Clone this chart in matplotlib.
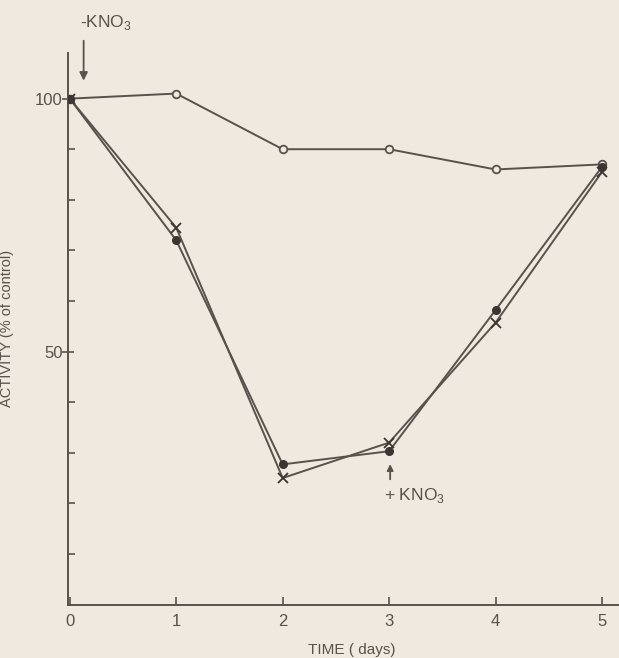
import matplotlib
matplotlib.use("Agg")
from matplotlib import pyplot as plt

# days after removal of KNO3
days = [0, 1, 2, 3, 4, 5]

# activity, % of control
control = [100, 101, 90, 90, 86, 87]        # open circles
filled = [100, 72, 27.7, 30.3, 58.2, 86.5]  # filled circles
crosses = [100, 74.5, 25, 32, 55.7, 85.5]   # crosses

paper = "#efe9df"
ink = "#57524c"

plt.rcParams['font.family'] = ['Liberation Sans', 'DejaVu Sans']
plt.rcParams['mathtext.fontset'] = 'custom'
plt.rcParams['mathtext.rm'] = 'Liberation Sans'

fig = plt.figure(figsize=(6.19, 6.58), dpi=100, facecolor=paper)
ax = fig.add_axes([0.110, 0.0813, 0.89, 0.838], facecolor=paper)

ax.plot(days, control, color=ink, linewidth=1.4, marker="o", markersize=5.5,
        markerfacecolor=paper, markeredgecolor=ink, markeredgewidth=1.3, zorder=3)
ax.plot(days, filled, color=ink, linewidth=1.4, marker="o", markersize=5.5,
        markerfacecolor="#3a3531", markeredgecolor="#3a3531", zorder=3)
ax.plot(days, crosses, color=ink, linewidth=1.4, marker="x", markersize=7.5,
        markeredgewidth=1.3, markeredgecolor="#3a3531", zorder=3)

ax.set_xlim(-0.016, 5.16)
ax.set_ylim(0, 109)

for side in ["top", "right"]:
    ax.spines[side].set_visible(False)
for side in ["left", "bottom"]:
    ax.spines[side].set_color(ink)
    ax.spines[side].set_linewidth(1.4)

ax.set_xticks(days)
ax.set_xticklabels([str(d) for d in days])
ax.set_yticks([50, 100])
ax.set_yticks(range(10, 110, 10), minor=True)
ax.tick_params(axis="x", direction="in", length=6, width=1.2, color=ink,
               labelcolor=ink, labelsize=12, pad=7)
ax.tick_params(axis="y", which="major", direction="inout", length=8, width=1.2,
               color=ink, labelcolor=ink, labelsize=12, pad=0)
ax.tick_params(axis="y", which="minor", direction="in", length=5, width=1.2,
               color=ink)

ax.set_ylabel("ACTIVITY (% of control)", color=ink, fontsize=10.5)
ax.yaxis.set_label_coords(-0.098, 0.5)
ax.set_xlabel("TIME ( days)", color=ink, fontsize=11)
ax.xaxis.set_label_coords(0.515, -0.07)

# treatment arrows
ax.annotate("", xy=(0.13, 103), xytext=(0.13, 112),
            arrowprops=dict(arrowstyle="-|>", color=ink, lw=1.3,
                            mutation_scale=12), annotation_clip=False)
ax.text(0.34, 115, "-KNO$_3$", color=ink, fontsize=12.5, ha="center",
        va="center", clip_on=False)

ax.annotate("", xy=(3.01, 28.3), xytext=(3.01, 24.2),
            arrowprops=dict(arrowstyle="-|>", color=ink, lw=1.3,
                            mutation_scale=9))
ax.text(2.95, 21.5, "+ KNO$_3$", color=ink, fontsize=12.5, ha="left",
        va="center")

plt.savefig("out.png", dpi=100, facecolor=paper)
